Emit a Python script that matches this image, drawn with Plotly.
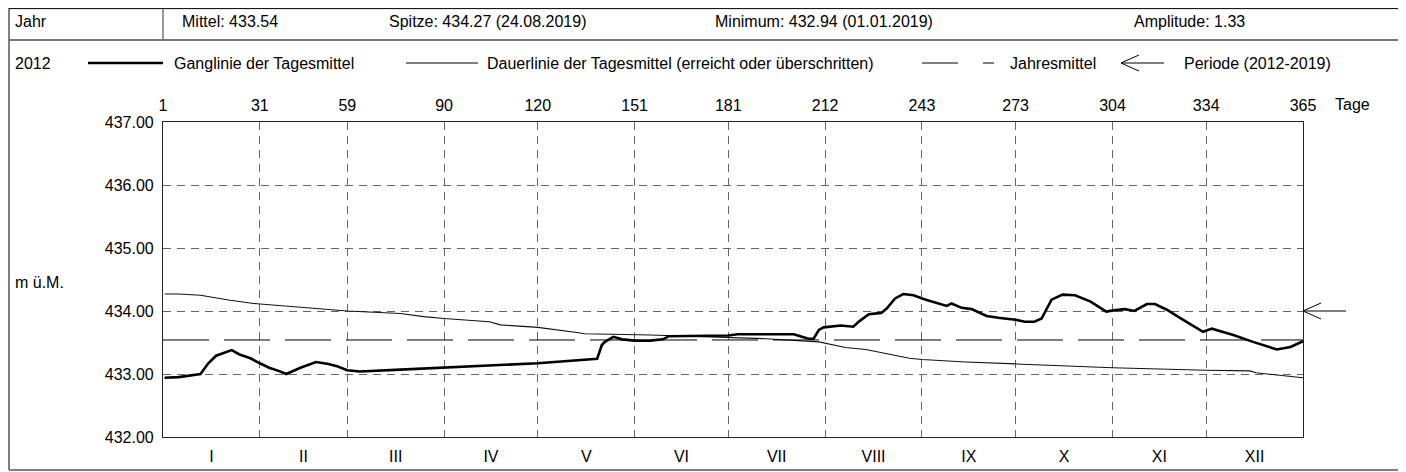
import plotly.graph_objects as go

# ---------------- data ----------------
month_bounds = [0, 31, 59, 90, 120, 151, 181, 212, 243, 273, 304, 334, 365]
top_tick_text = ["1", "31", "59", "90", "120", "151", "181", "212", "243", "273", "304", "334", "365"]
month_names = ["I", "II", "III", "IV", "V", "VI", "VII", "VIII", "IX", "X", "XI", "XII"]
y_ticks = [432, 433, 434, 435, 436, 437]

gang_day = [0.5, 5, 12, 14.5, 17, 22, 24.5, 28, 31, 34, 37, 39.5, 44, 49, 53, 56, 59, 63, 76, 90,
            120, 139, 140.5, 141.5, 144.2, 147, 151, 156, 160, 162, 172, 181, 184, 202, 204, 206.7,
            208.3, 210, 211.5, 217, 221, 223, 226, 230, 231.7, 234.4, 237, 240.3, 243.5, 245.6,
            250.9, 252.5, 255.7, 258.9, 263.7, 268, 273, 276, 279, 281.3, 283, 284.5, 288, 292,
            297, 302, 304.3, 308, 311, 315, 317.6, 321.4, 325.6, 333, 335.8, 342.7, 349, 356.6,
            361, 365]
gang_val = [432.94, 432.95, 433.00, 433.17, 433.29, 433.38, 433.31, 433.25, 433.17, 433.10, 433.05,
            433.00, 433.10, 433.19, 433.16, 433.12, 433.06, 433.04, 433.07, 433.10,
            433.17, 433.24, 433.46, 433.51, 433.59, 433.55, 433.53, 433.53, 433.55, 433.60, 433.60,
            433.61, 433.63, 433.63, 433.60, 433.56,
            433.56, 433.70, 433.74, 433.77, 433.75, 433.84, 433.95, 433.97, 434.04, 434.20, 434.27,
            434.25, 434.19, 434.16,
            434.08, 434.12, 434.05, 434.03, 433.92, 433.89, 433.86, 433.83, 433.83, 433.88, 434.05,
            434.18, 434.26, 434.25,
            434.15, 433.99, 434.01, 434.03, 434.00, 434.11, 434.11, 434.02, 433.89, 433.67, 433.72,
            433.62, 433.51, 433.39, 433.43, 433.52]

dauer_day = [0.5, 5, 12, 21.5, 29, 38.5, 49, 59, 76, 83.5, 90, 104.5, 108, 120, 132.5, 135, 156,
             181, 193, 210, 218.5, 225, 239, 243, 257, 273, 300, 304, 334, 348, 350, 358.7, 365]
dauer_val = [434.27, 434.27, 434.25, 434.17, 434.12, 434.08, 434.04, 434.00, 433.96, 433.91, 433.88,
             433.83, 433.78, 433.74, 433.66, 433.64, 433.62, 433.58, 433.56, 433.51, 433.42, 433.39,
             433.25, 433.23, 433.19, 433.16, 433.11, 433.10, 433.06, 433.05, 433.02, 432.97, 432.94]

jahres_mittel = 433.54
perioden_mittel = 434.00

header_texts = ["Mittel: 433.54", "Spitze: 434.27 (24.08.2019)",
                "Minimum: 432.94 (01.01.2019)", "Amplitude: 1.33"]
legend_texts = ["Ganglinie der Tagesmittel",
                "Dauerlinie der Tagesmittel (erreicht oder überschritten)",
                "Jahresmittel", "Periode (2012-2019)"]

# ---------------- layout geometry (screen pixels of the target) ----------------
OFF = 8                       # default page margin of the html body
W, H = 1406 - OFF, 472 - OFF
L, R, T, B = 163, 1303, 122, 437   # plot area in screen pixels


def px(xp):
    return (xp - L) / (R - L)


def py(yp):
    return (B - yp) / (B - T)


FONT = "Liberation Sans, Arial, sans-serif"
FS = 16

fig = go.Figure()

fig.add_trace(go.Scatter(x=dauer_day, y=dauer_val, mode="lines",
                         line=dict(color="#111", width=1.1), hoverinfo="skip", showlegend=False))
fig.add_trace(go.Scatter(x=gang_day, y=gang_val, mode="lines",
                         line=dict(color="black", width=2.6), hoverinfo="skip", showlegend=False))
fig.add_trace(go.Scatter(x=[0, 365], y=[jahres_mittel, jahres_mittel], mode="lines", xaxis="x2",
                         line=dict(color="black", width=1, dash="46px,15px"),
                         hoverinfo="skip", showlegend=False))

shapes = []
frame_col = "#555"


def pline(x0, y0, x1, y1, color="black", width=1.0):
    shapes.append(dict(type="line", xref="paper", yref="paper", x0=px(x0), x1=px(x1),
                       y0=py(y0), y1=py(y1), line=dict(color=color, width=width)))


LEFT_EDGE = OFF + 1.0   # leftmost drawable screen column
TOP_EDGE = OFF + 0.6    # topmost drawable screen row
# outer frame
pline(LEFT_EDGE, 470, LEFT_EDGE, TOP_EDGE - 2, frame_col, 1.5)
pline(1403, 470, 1403, TOP_EDGE - 2, frame_col, 1.5)
pline(LEFT_EDGE, 470, 1403, 470, frame_col, 1.5)
# top partial row border
pline(LEFT_EDGE, TOP_EDGE, 1403, TOP_EDGE, "black", 1)
# Jahr divider and row separator
pline(163, 40, 163, TOP_EDGE, frame_col, 1.2)
pline(LEFT_EDGE, 40, 1403, 40, "#777", 1.8)

# legend symbols (row y=63)
pline(88, 63, 163, 63, "black", 2.6)
pline(406, 63, 478, 63, "black", 1)
pline(922, 63, 958, 63, "black", 1)
pline(983, 63, 994, 63, "black", 1)
pline(1121, 63, 1164, 63, "black", 1)
shapes.append(dict(type="path", xref="paper", yref="paper",
                   path=f"M {px(1139)} {py(55)} L {px(1121)} {py(63)} L {px(1139)} {py(71)}",
                   line=dict(color="black", width=1)))

# period arrow at right of plot
shapes.append(dict(type="line", xref="paper", yref="y", x0=px(1303), x1=px(1346),
                   y0=perioden_mittel, y1=perioden_mittel, line=dict(color="black", width=1)))
shapes.append(dict(type="path", xref="paper", yref="paper",
                   path=(f"M {px(1321)} {py(311 - 8)} L {px(1303)} {py(311)} "
                         f"L {px(1321)} {py(311 + 8)}"),
                   line=dict(color="black", width=1)))

annotations = []


def txt(x, y, s, anchor="left"):
    annotations.append(dict(xref="paper", yref="paper", x=px(x), y=py(y), text=s, showarrow=False,
                            xanchor=anchor, yanchor="middle", font=dict(family=FONT, size=FS, color="black")))


txt(13, 21, "Jahr")
for xx, s in zip([180, 387, 713, 1132], header_texts):
    txt(xx, 21, s)
txt(13, 63, "2012")
for xx, s in zip([172, 485, 1008, 1182], legend_texts):
    txt(xx, 63, s)
txt(1333, 105, "Tage")
txt(13, 282, "m ü.M.")

fig.update_layout(
    width=W, height=H,
    margin=dict(l=L - OFF, r=1406 - R, t=T - OFF, b=472 - B, pad=0, autoexpand=False),
    paper_bgcolor="white", plot_bgcolor="white",
    font=dict(family=FONT, size=FS, color="black"),
    shapes=shapes, annotations=annotations,
    xaxis=dict(range=[0, 365], side="top", tickmode="array", tickvals=month_bounds,
               ticktext=top_tick_text, ticks="", ticklabelstandoff=4, automargin=False,
               showgrid=True, gridcolor="#666", griddash="8px,6px", gridwidth=1,
               showline=True, mirror=True, linecolor="#222", linewidth=1.2, zeroline=False),
    xaxis2=dict(range=[0, 365], overlaying="x", side="bottom", tickmode="array",
                tickvals=[(a + b) / 2 for a, b in zip(month_bounds[:-1], month_bounds[1:])],
                ticktext=month_names, ticks="", ticklabelstandoff=8, showgrid=False,
                automargin=False, showline=False, zeroline=False),
    yaxis=dict(range=[432, 437], tickmode="array", tickvals=y_ticks,
               ticktext=[f"{v:.2f}" for v in y_ticks], ticks="", ticklabelstandoff=5,
               automargin=False,
               showgrid=True, gridcolor="#666", griddash="8px,6px", gridwidth=1,
               showline=True, mirror=True, linecolor="#222", linewidth=1.2, zeroline=False),
)

fig.write_html("out.html")
